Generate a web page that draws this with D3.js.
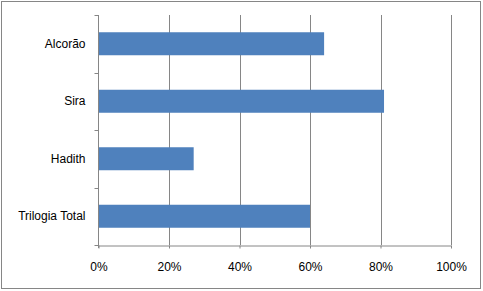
<!DOCTYPE html>
<html>
<head>
<meta charset="utf-8">
<script src="https://cdn.jsdelivr.net/npm/d3@7"></script>
<style>
  body { margin: 0; background: #fff; }
  svg text { font-family: "Liberation Sans", Arial, sans-serif; font-size: 12px; fill: #000; }
</style>
</head>
<body>
<svg id="chart" width="483" height="291"></svg>
<script>
// data
var categories = ["Alcorão", "Sira", "Hadith", "Trilogia Total"];
var values = [0.64, 0.81, 0.27, 0.60];
var xTicks = [0, 0.2, 0.4, 0.6, 0.8, 1.0];

(function(){
  var svg = d3.select("#chart");
  var plotLeft = 98.5, plotRight = 451, plotTop = 15, plotBottom = 245;
  var axisColor = "#868686";

  // outer frame
  svg.append("rect")
    .attr("x", 1.5).attr("y", 1.5)
    .attr("width", 479).attr("height", 287)
    .attr("fill", "#fff")
    .attr("stroke", axisColor);

  var x = d3.scaleLinear().domain([0, 1]).range([plotLeft, plotRight]);
  var y = d3.scaleBand().domain(categories).range([plotTop, plotBottom]).paddingInner(0.6).paddingOuter(0.3);
  var yb = d3.scaleBand().domain(categories).range([plotTop, plotBottom]);

  // vertical gridlines
  svg.append("g").selectAll("line")
    .data(xTicks.slice(1))
    .enter().append("line")
    .attr("x1", function(d){ return Math.round(x(d)) + 0.5; })
    .attr("x2", function(d){ return Math.round(x(d)) + 0.5; })
    .attr("y1", plotTop).attr("y2", plotBottom)
    .attr("stroke", axisColor);

  // bars
  svg.append("g").selectAll("rect")
    .data(categories)
    .enter().append("rect")
    .attr("x", x(0))
    .attr("y", function(d){ return y(d); })
    .attr("width", function(d, i){ return x(values[i]) - x(0); })
    .attr("height", y.bandwidth())
    .attr("fill", "#4F81BD");

  // x axis
  var xAxis = svg.append("g")
    .attr("transform", "translate(0," + (plotBottom + 0.5) + ")")
    .call(d3.axisBottom(x).tickValues(xTicks).tickFormat(d3.format(".0%")).tickSize(3).tickSizeOuter(0).tickPadding(14));
  xAxis.select(".domain").attr("stroke", axisColor);
  xAxis.selectAll(".tick line").attr("stroke", axisColor);
  xAxis.selectAll("text").attr("fill", "#000").style("font-size", "12px").style("font-family", "Liberation Sans, Arial, sans-serif");

  // y axis, ticks at band boundaries
  var yAxis = svg.append("g").attr("transform", "translate(" + (Math.floor(plotLeft) + 0.5) + ",0)");
  yAxis.append("line")
    .attr("x1", 0).attr("x2", 0)
    .attr("y1", plotTop).attr("y2", plotBottom + 3)
    .attr("stroke", axisColor);
  var bounds = categories.map(function(c){ return yb(c); }).concat([plotBottom]);
  yAxis.selectAll("line.tk")
    .data(bounds)
    .enter().append("line")
    .attr("class", "tk")
    .attr("x1", -4).attr("x2", 0)
    .attr("y1", function(d){ return Math.round(d) + 0.5; })
    .attr("y2", function(d){ return Math.round(d) + 0.5; })
    .attr("stroke", axisColor);
  yAxis.selectAll("text")
    .data(categories)
    .enter().append("text")
    .attr("x", -13)
    .attr("y", function(d){ return yb(d) + yb.bandwidth() / 2; })
    .attr("dy", "0.35em")
    .attr("text-anchor", "end")
    .text(function(d){ return d; });
})();
</script>
</body>
</html>
